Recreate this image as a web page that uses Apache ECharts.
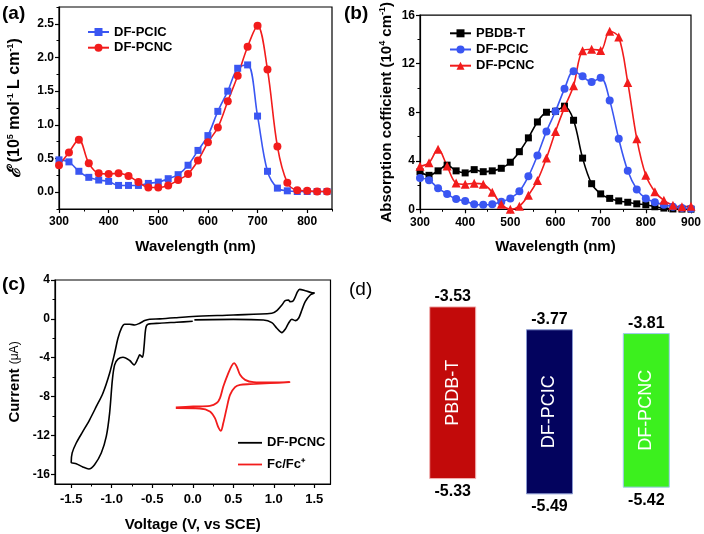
<!DOCTYPE html>
<html><head><meta charset="utf-8">
<script src="https://cdn.jsdelivr.net/npm/echarts@6/dist/echarts.min.js"></script>
<style>html,body{margin:0;padding:0;background:#fff}#c{width:704px;height:534px}</style>
</head><body><div id="c"></div>
<script>
// ---------- DATA ----------
// (a) molar extinction, 10^5 mol-1 L cm-1
const wlA = [300,320,340,360,380,400,420,440,460,480,500,520,540,560,580,600,620,640,660,680,700,720,740,760,780,800,820,840];
const pcicA = [0.48,0.45,0.31,0.22,0.18,0.16,0.10,0.10,0.10,0.13,0.15,0.20,0.26,0.40,0.62,0.84,1.20,1.50,1.84,1.89,1.13,0.31,0.06,0.02,0.01,0.01,0.01,0.01];
const pcncA = [0.40,0.59,0.78,0.43,0.28,0.27,0.28,0.24,0.15,0.07,0.07,0.10,0.18,0.27,0.47,0.74,0.96,1.35,1.73,2.16,2.47,1.82,0.68,0.14,0.03,0.02,0.01,0.01];
// (b) film absorption coefficient, 10^4 cm-1
const wlB = [300,320,340,360,380,400,420,440,460,480,500,520,540,560,580,600,620,640,660,680,700,720,740,760,780,800,820,840,860,880,900];
const pbdbB = [3.1,2.8,3.17,3.64,3.17,3.0,3.27,3.1,3.17,3.38,3.88,4.75,5.89,7.2,8.0,8.08,8.5,7.34,4.22,2.11,1.27,0.9,0.69,0.58,0.45,0.37,0.21,0.1,0.03,0.02,0.01];
const pcicB = [2.58,2.4,1.74,1.27,0.84,0.69,0.42,0.37,0.42,0.63,0.9,1.48,2.72,4.44,6.42,8.08,9.93,11.38,10.96,10.5,10.85,8.98,5.81,3.17,1.64,0.9,0.58,0.37,0.21,0.1,0.05];
const pcncB = [3.55,3.83,4.96,3.56,2.16,2.06,2.14,2.06,1.4,0.42,0.0,0.26,1.16,2.38,4.22,6.42,8.4,10.19,13.07,13.2,13.1,14.68,14.2,10.46,5.81,2.8,1.45,0.74,0.34,0.21,0.26];
// (c) cyclic voltammetry (V vs SCE, uA)
const cvVolt = [0.0,-0.2,-0.407,-0.552,-0.58,-0.601,-0.621,-0.654,-0.675,-0.725,-0.778,-0.861,-0.923,-0.964,-0.992,-1.026,-1.067,-1.129,-1.212,-1.282,-1.356,-1.438,-1.5,-1.488,-1.438,-1.356,-1.273,-1.19,-1.109,-1.026,-0.964,-0.923,-0.881,-0.84,-0.778,-0.716,-0.654,-0.593,-0.531,-0.407,-0.2,0.0,0.5,0.976,1.038,1.1,1.141,1.182,1.2,1.241,1.293,1.318,1.388,1.471,1.5,1.45,1.388,1.347,1.306,1.265,1.223,1.182,1.141,1.1,1.038,0.976,0.872,0.5,0.02];
const cvCurr = [-0.25,-0.35,-0.45,-0.56,-0.97,-2.85,-3.95,-3.71,-4.05,-4.74,-4.29,-3.95,-4.15,-4.74,-6.28,-9.7,-12.1,-13.81,-15.01,-15.45,-15.25,-14.91,-14.77,-13.8,-12.78,-11.59,-10.39,-9.02,-7.65,-5.59,-3.54,-1.99,-0.97,-0.56,-0.56,-0.63,-0.45,-0.18,-0.04,0.0,0.12,0.25,0.4,0.57,0.85,1.43,1.87,1.94,1.77,1.87,2.8,3.04,2.9,2.69,2.66,2.46,1.77,0.91,0.06,-0.18,-0.04,-0.45,-1.07,-1.42,-0.97,-0.39,-0.11,-0.05,-0.1];
const fcVolt = [-0.209,0.005,0.212,0.295,0.336,0.377,0.439,0.48,0.51,0.543,0.584,0.646,0.749,0.955,1.194,1.2,0.955,0.707,0.584,0.522,0.46,0.419,0.377,0.348,0.315,0.274,0.212,0.088,-0.209];
const fcCurr = [-9.12,-9.02,-8.95,-8.67,-8.16,-6.97,-5.59,-4.84,-4.56,-4.91,-5.76,-6.28,-6.52,-6.55,-6.52,-6.56,-6.62,-6.72,-6.79,-7.03,-7.82,-9.19,-10.73,-11.52,-11.14,-10.22,-9.53,-9.23,-9.19];
// (d) energy levels (eV)
const materials = ['PBDB-T','DF-PCIC','DF-PCNC'];
const lumo = [-3.53,-3.77,-3.81];
const homo = [-5.33,-5.49,-5.42];
// tick values
const xTicksA = [300,400,500,600,700,800];
const xMinorA = [350,450,550,650,750,850];
const yTicksA = [0,0.5,1.0,1.5,2.0,2.5];
const yMinorA = [-0.25,0.25,0.75,1.25,1.75,2.25,2.75];
const xTicksB = [300,400,500,600,700,800,900];
const xMinorB = [350,450,550,650,750,850];
const yTicksB = [0,4,8,12,16];
const yMinorB = [2,6,10,14];
const xTicksC = [-1.5,-1.0,-0.5,0.0,0.5,1.0,1.5];
const xMinorC = [-1.25,-0.75,-0.25,0.25,0.75,1.25];
const yTicksC = [-16,-12,-8,-4,0,4];
const yMinorC = [-14,-10,-6,-2,2];

// ---------- STYLE / BUILD ----------
const FONT = '"Liberation Sans", Arial, Helvetica, sans-serif';
const BLUE = '#3a56f2', RED = '#f21c1c', BLACK = '#000';
const grids = [
  {left:59, top:7, width:273, height:202},
  {left:420, top:7.3, width:271, height:202},
  {left:55, top:280, width:275.5, height:204},
  {left:404.3, top:275.4, width:290.4, height:248}
];
grids.forEach((g,i)=>{ if(i<3){ g.show=true; g.borderColor='#000'; g.borderWidth=1.2; } });

function majorAxis(gi, pos, min, max, ticks, fmt, extra){
  return Object.assign({
    type:'value', gridIndex:gi, position:pos, min:min, max:max,
    axisLine:{show:true, onZero:false, lineStyle:{color:'#000', width:1.2}},
    axisTick:{show:true, length:4, inside:false, customValues:ticks, lineStyle:{color:'#000', width:1.2}},
    axisLabel:{show:true, customValues:ticks, formatter:fmt, color:'#000', fontFamily:FONT, fontWeight:'bold', fontSize:12, margin:(pos==='bottom'?7:5)},
    splitLine:{show:false}
  }, extra||{});
}
function minorAxis(gi, pos, min, max, ticks){
  return {type:'value', gridIndex:gi, position:pos, min:min, max:max,
    axisLine:{show:false, onZero:false}, axisLabel:{show:false}, splitLine:{show:false},
    axisTick:{show:true, length:2.5, customValues:ticks, lineStyle:{color:'#000', width:1}}};
}
const titleStyle = {color:'#000', fontFamily:FONT, fontWeight:'bold', fontSize:15};
const supRich = {s:{fontSize:9, fontWeight:'bold', fontFamily:FONT, color:'#000', verticalAlign:'top', lineHeight:10}};

const xAxis = [
  majorAxis(0,'bottom',300,850,xTicksA,v=>String(v),{name:'Wavelength (nm)', nameLocation:'middle', nameGap:30, nameTextStyle:titleStyle}),
  minorAxis(0,'bottom',300,850,xMinorA),
  majorAxis(1,'bottom',300,900,xTicksB,v=>String(v),{name:'Wavelength (nm)', nameLocation:'middle', nameGap:30, nameTextStyle:titleStyle}),
  minorAxis(1,'bottom',300,900,xMinorB),
  majorAxis(2,'bottom',-1.7,1.7,xTicksC,v=>v.toFixed(1),{name:'Voltage (V, vs SCE)', nameLocation:'middle', nameGap:33, nameTextStyle:titleStyle}),
  minorAxis(2,'bottom',-1.7,1.7,xMinorC),
  {type:'category', gridIndex:3, data:materials, show:false}
];
xAxis[4].axisLabel.fontSize = 13;
xAxis[4].axisLabel.margin = 9;
const yAxis = [
  majorAxis(0,'left',-0.25,2.75,yTicksA,v=>v.toFixed(1),{
    name:'{e|ℰ} (10{s|5} mol{s|-1} L cm{s|-1})', nameLocation:'middle', nameRotate:90, nameGap:35,
    nameTextStyle:Object.assign({}, titleStyle, {fontSize:16, lineHeight:18, rich:Object.assign({e:{fontSize:18, fontStyle:'italic', fontWeight:'bold', fontFamily:FONT, color:'#000'}}, supRich)})}),
  minorAxis(0,'left',-0.25,2.75,yMinorA),
  majorAxis(1,'left',0,16,yTicksB,v=>String(v),{
    name:'Absorption cofficient (10{s|4} cm{s|-1})', nameLocation:'middle', nameRotate:90, nameGap:24,
    nameTextStyle:Object.assign({}, titleStyle, {lineHeight:18, rich:supRich})}),
  minorAxis(1,'left',0,16,yMinorB),
  majorAxis(2,'left',-17,4,yTicksC,v=>String(v),{
    name:'{b|Current} {n|(μA)}', nameLocation:'middle', nameRotate:90, nameGap:33,
    nameTextStyle:Object.assign({}, titleStyle, {rich:{b:{fontSize:15, fontWeight:'bold', fontFamily:FONT, color:'#000'}, n:{fontSize:12, fontWeight:'normal', fontFamily:FONT, color:'#000'}}})}),
  minorAxis(2,'left',-17,4,yMinorC),
  {type:'value', gridIndex:3, min:-5.8, max:-3.2, show:false}
];

function zip(xs, ys){ return xs.map((x,i)=>[x, ys[i]]); }
function spec(name, xi, color, symbol, size, xs, ys){
  return {type:'line', name:name, xAxisIndex:xi, yAxisIndex:xi, data:zip(xs,ys), smooth:0.35,
    symbol:symbol, symbolSize:size, showSymbol:true, color:color,
    lineStyle:{color:color, width:1.6}, itemStyle:{color:color}, z:3};
}
const barFill = ['#c20a0a','#03035e','#3cf01e'];
const barStroke = ['#f0b0b0','#8898d0','#a0c8f0'];

const series = [
  spec('a:DF-PCIC',0,BLUE,'rect',7,wlA,pcicA),
  spec('a:DF-PCNC',0,RED,'circle',8,wlA,pcncA),
  spec('b:PBDB-T',2,BLACK,'rect',7,wlB,pbdbB),
  spec('b:DF-PCIC',2,BLUE,'circle',8,wlB,pcicB),
  spec('b:DF-PCNC',2,RED,'triangle',9,wlB,pcncB),
  {type:'line', name:'c:DF-PCNC', xAxisIndex:4, yAxisIndex:4, data:zip(cvVolt,cvCurr), smooth:0.3, showSymbol:false, symbol:'none',
    color:BLACK, lineStyle:{color:BLACK, width:1.6}},
  {type:'line', name:'c:Fc/Fc⁺', xAxisIndex:4, yAxisIndex:4, data:zip(fcVolt,fcCurr), smooth:0.3, showSymbol:false, symbol:'none',
    color:RED, lineStyle:{color:RED, width:1.8}},
  {type:'custom', xAxisIndex:6, yAxisIndex:6, data:materials.map((m,i)=>[i, lumo[i], homo[i]]),
    renderItem:function(params, api){
      const i = params.dataIndex;
      const top = api.coord([api.value(0), api.value(1)]);
      const bot = api.coord([api.value(0), api.value(2)]);
      const w = api.size([1,0])[0]*0.475;
      return {type:'group', children:[
        {type:'rect', shape:{x:top[0]-w/2, y:top[1], width:w, height:bot[1]-top[1]}, style:{fill:barFill[i], stroke:barStroke[i], lineWidth:1}},
        {type:'text', x:top[0], y:(top[1]+bot[1])/2, rotation:Math.PI/2,
          style:{text:materials[i], fill:'#fff', font:'18px '+FONT, align:'center', verticalAlign:'middle'}},
        {type:'text', x:top[0], y:top[1]-2, style:{text:api.value(1).toFixed(2), fill:'#000', font:'bold 16px '+FONT, align:'center', verticalAlign:'bottom'}},
        {type:'text', x:top[0], y:bot[1]+5, style:{text:api.value(2).toFixed(2), fill:'#000', font:'bold 16px '+FONT, align:'center', verticalAlign:'top'}}
      ]};
    }}
];

const legFmt = n => n.slice(2);
const LINE_ICON = 'path://M0,0L24,0L24,1.8L0,1.8Z';
const legText = {fontFamily:FONT, fontWeight:'bold', fontSize:13, color:'#000'};
const legend = [
  {orient:'vertical', left:87, top:25.5, padding:0, itemWidth:21, itemHeight:10, itemGap:2.7, data:['a:DF-PCIC','a:DF-PCNC'], formatter:legFmt,
    textStyle:legText, selectedMode:false},
  {orient:'vertical', left:449, top:26.8, padding:0, itemWidth:21, itemHeight:10, itemGap:3.2, data:['b:PBDB-T','b:DF-PCIC','b:DF-PCNC'], formatter:legFmt,
    textStyle:legText, selectedMode:false},
  {orient:'vertical', left:238, top:436.3, padding:0, itemWidth:24, itemHeight:14, itemGap:8.7,
    data:[{name:'c:DF-PCNC', icon:LINE_ICON},{name:'c:Fc/Fc⁺', icon:LINE_ICON}], formatter:legFmt,
    textStyle:legText, selectedMode:false}
];

const graphic = [
  {type:'text', left:2, top:4, style:{text:'(a)', font:'bold 19px '+FONT, fill:'#000'}},
  {type:'text', left:344, top:4, style:{text:'(b)', font:'bold 19px '+FONT, fill:'#000'}},
  {type:'text', left:2, top:275, style:{text:'(c)', font:'bold 19px '+FONT, fill:'#000'}},
  {type:'text', left:349, top:280, style:{text:'(d)', font:'19px '+FONT, fill:'#000'}}
];

const chart = echarts.init(document.getElementById('c'), null, {renderer:'canvas'});
chart.setOption({
  animation:false, backgroundColor:'#fff',
  textStyle:{fontFamily:FONT},
  grid:grids, xAxis:xAxis, yAxis:yAxis, series:series, legend:legend, graphic:graphic
});
</script></body></html>
